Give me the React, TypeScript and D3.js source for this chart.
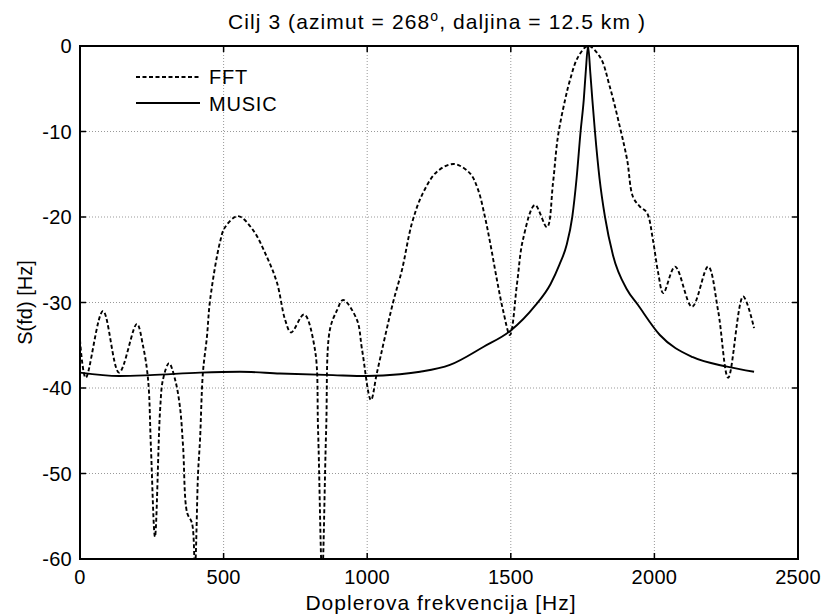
import React from "react";
import * as d3 from "d3";

const fftFreq = [0, 20, 80, 136, 198, 219, 237, 247, 261, 279, 289, 310, 331, 348, 359, 373, 390, 400, 411, 418, 428, 442, 453, 487, 505, 550, 602, 651, 686, 714, 735, 780, 818, 829, 843, 857, 870, 895, 916, 964, 982, 1013, 1034, 1090, 1121, 1156, 1194, 1243, 1302, 1358, 1386, 1410, 1428, 1452, 1473, 1497, 1522, 1542, 1584, 1626, 1647, 1664, 1689, 1706, 1734, 1769, 1811, 1845, 1880, 1905, 1925, 1950, 1974, 1995, 2013, 2031, 2072, 2131, 2187, 2222, 2257, 2309, 2347];
const fftDb = [-34.4, -38.8, -31.0, -38.2, -32.5, -35, -39, -47, -57.4, -42.5, -39, -37.1, -39, -42.2, -46.9, -54.6, -55.8, -61, -50, -46, -38.2, -34, -29.7, -23, -21.2, -19.9, -21.5, -24.7, -27.7, -32, -33.5, -31.4, -35.5, -45, -62, -45, -33.2, -30.9, -29.7, -32, -35.5, -41.4, -38.2, -30, -26.2, -20.7, -17.2, -14.7, -13.8, -14.9, -16.8, -20, -23, -27.4, -30.9, -33.8, -27.7, -22.7, -18.6, -21.2, -16, -10.6, -6.3, -4, -1.3, 0, -1.3, -4.8, -9.5, -13.3, -17.6, -18.8, -19.5, -22.7, -26.5, -28.9, -25.8, -30.5, -25.8, -31, -38.8, -29.3, -33];

const musicFreq = [0, 136, 244, 418, 557, 696, 881, 999, 1114, 1184, 1288, 1404, 1499, 1584, 1639, 1669, 1694, 1714, 1729, 1743, 1754, 1761, 1769, 1777, 1784, 1793, 1809, 1828, 1856, 1905, 1943, 2019, 2134, 2253, 2347];
const musicDb = [-38.2, -38.6, -38.5, -38.2, -38.1, -38.3, -38.5, -38.6, -38.4, -38.1, -37.3, -35.2, -33.3, -30.4, -27.8, -25.6, -23.3, -20, -15.5, -10, -6.3, -3, 0, -3.2, -6.3, -10, -15.5, -20, -24.5, -28.5, -30.3, -33.8, -36.4, -37.5, -38.1];

const xTicks = [0, 500, 1000, 1500, 2000, 2500];
const yTicks = [0, -10, -20, -30, -40, -50, -60];

const W = 826, H = 616;
const L = 80, R = 798, T = 46, B = 559;
const FONT = "Liberation Sans, Arial, sans-serif";

export default function App() {
  const x = d3.scaleLinear().domain([0, 2500]).range([L, R]);
  const y = d3.scaleLinear().domain([-60, 0]).range([B, T]);
  const fftLine = d3.line<number>().x((d, i) => x(fftFreq[i])).y((d) => y(d)).curve(d3.curveCatmullRom.alpha(0.5));
  const musicLine = d3.line<number>().x((d, i) => x(musicFreq[i])).y((d) => y(d)).curve(d3.curveMonotoneX);
  const tickLen = 6;
  return (
    <svg width={W} height={H} style={{ position: "absolute", left: 0, top: 0, background: "#fff" }} fontFamily={FONT}>
      <defs>
        <clipPath id="plotClip">
          <rect x={L} y={T} width={R - L} height={B - T} />
        </clipPath>
      </defs>
      <rect x={0} y={0} width={W} height={H} fill="#fff" />
      {/* grid */}
      {xTicks.slice(1, -1).map((t) => (
        <line key={"gx" + t} x1={x(t)} x2={x(t)} y1={T} y2={B} stroke="#999" strokeWidth={1} strokeDasharray="1,2" />
      ))}
      {yTicks.slice(1, -1).map((t) => (
        <line key={"gy" + t} x1={L} x2={R} y1={y(t)} y2={y(t)} stroke="#999" strokeWidth={1} strokeDasharray="1,2" />
      ))}
      {/* curves */}
      <g clipPath="url(#plotClip)">
        <path d={musicLine(musicDb) || ""} fill="none" stroke="#000" strokeWidth={1.9} />
        <path d={fftLine(fftDb) || ""} fill="none" stroke="#000" strokeWidth={1.9} strokeDasharray="4,2.5" />
      </g>
      {/* ticks */}
      {xTicks.map((t) => (
        <g key={"tx" + t}>
          <line x1={x(t)} x2={x(t)} y1={B} y2={B - tickLen} stroke="#000" strokeWidth={1.5} />
          <line x1={x(t)} x2={x(t)} y1={T} y2={T + tickLen} stroke="#000" strokeWidth={1.5} />
          <text x={x(t)} y={584} fontSize={20} letterSpacing={0.3} textAnchor="middle" fill="#000">{t}</text>
        </g>
      ))}
      {yTicks.map((t) => (
        <g key={"ty" + t}>
          <line x1={L} x2={L + tickLen} y1={y(t)} y2={y(t)} stroke="#000" strokeWidth={1.5} />
          <line x1={R} x2={R - tickLen} y1={y(t)} y2={y(t)} stroke="#000" strokeWidth={1.5} />
          <text x={72} y={y(t)} dy="0.35em" fontSize={20} letterSpacing={0.3} textAnchor="end" fill="#000">{t}</text>
        </g>
      ))}
      {/* axes box */}
      <rect x={L} y={T} width={R - L} height={B - T} fill="none" stroke="#000" strokeWidth={2} />
      {/* legend */}
      <line x1={136} x2={200} y1={77} y2={77} stroke="#000" strokeWidth={1.9} strokeDasharray="4,2.5" />
      <text x={209} y={84} fontSize={20} letterSpacing={0.8} fill="#000">FFT</text>
      <line x1={136} x2={200} y1={103} y2={103} stroke="#000" strokeWidth={1.9} />
      <text x={209} y={110.5} fontSize={20} letterSpacing={0.8} fill="#000">MUSIC</text>
      {/* title */}
      <text x={437} y={29} fontSize={21} letterSpacing={1.1} textAnchor="middle" fill="#000">
        Cilj 3 (azimut = 268<tspan fontSize={14} dy={-8}>o</tspan><tspan dy={8}>, daljina = 12.5 km )</tspan>
      </text>
      {/* axis labels */}
      <text x={441} y={610} fontSize={21} letterSpacing={1} textAnchor="middle" fill="#000">Doplerova frekvencija [Hz]</text>
      <text transform={`translate(32, ${(T + B) / 2}) rotate(-90)`} fontSize={20} textAnchor="middle" fill="#000">S(fd) [Hz]</text>
    </svg>
  );
}
